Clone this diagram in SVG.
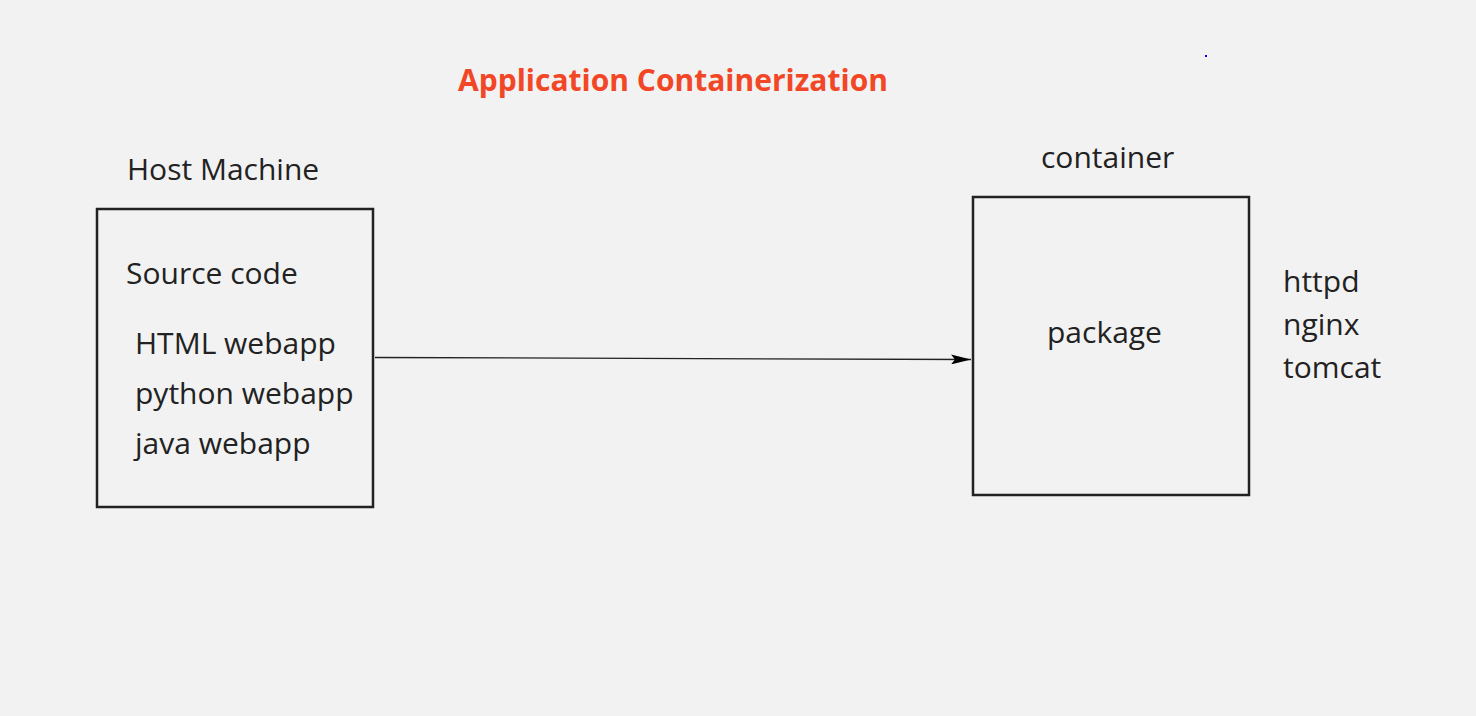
<svg xmlns="http://www.w3.org/2000/svg" width="1476" height="716" viewBox="0 0 1476 716">
<defs>
<style>
.t{font-family:"Open Sans","Noto Sans",sans-serif;font-size:30px;fill:#222;}
.title{font-family:"Open Sans","Noto Sans",sans-serif;font-size:30px;font-weight:bold;fill:#f24726;}
.box{fill:none;stroke:#222;stroke-width:2.5;}
.conn{fill:none;stroke:#222;stroke-width:1.3;}
</style>
<marker id="ah" viewBox="0 0 20 10" refX="20" refY="5" markerWidth="20" markerHeight="10" markerUnits="userSpaceOnUse" orient="auto">
<path d="M0,0 L20,5 L0,10 L4,5 Z" fill="#000"/>
</marker>
</defs>
<rect width="1476" height="716" fill="#f2f2f2"/>
<text class="title" x="458" y="91">Application Containerization</text>
<rect x="1205" y="55" width="2" height="2" fill="#0000ff"/>
<g id="host-machine">
<text class="t" x="127" y="180">Host Machine</text>
<rect class="box" x="97" y="209" width="276" height="298"/>
<text class="t" x="126" y="284">Source code</text>
<text class="t" x="135" y="354">HTML webapp</text>
<text class="t" x="135" y="404">python webapp</text>
<text class="t" x="135" y="454">java webapp</text>
</g>
<g id="container">
<text class="t" x="1041" y="168">container</text>
<rect class="box" x="973" y="197" width="276" height="298"/>
<text class="t" x="1047" y="343">package</text>
</g>
<g id="servers">
<text class="t" x="1283" y="292">httpd</text>
<text class="t" x="1283" y="335">nginx</text>
<text class="t" x="1283" y="378">tomcat</text>
</g>
<g id="connectors">
<path class="conn" d="M375,357.5 L971,359.5" marker-end="url(#ah)"/>
</g>
</svg>
